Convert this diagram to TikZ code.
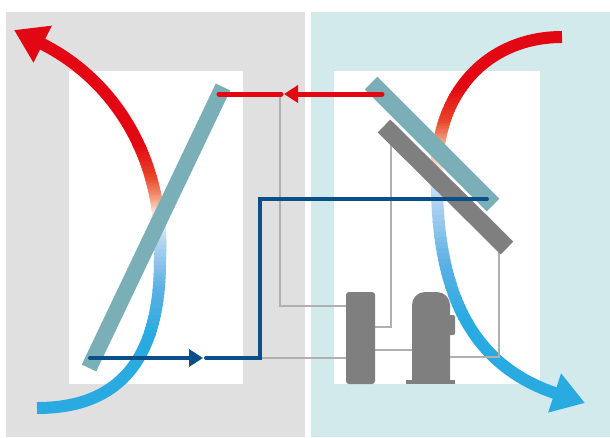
\documentclass[tikz,border=0pt]{standalone}
\usetikzlibrary{arrows.meta}
\definecolor{panelgray}{HTML}{E0E0E0}
\definecolor{panelblue}{HTML}{D3EAEC}
\definecolor{hot}{HTML}{E30613}
\definecolor{warm}{HTML}{E8452A}
\definecolor{peach}{HTML}{F4A080}
\definecolor{blush}{HTML}{FBE5DC}
\definecolor{ice}{HTML}{E8F1FA}
\definecolor{pale}{HTML}{B5D5F0}
\definecolor{mid}{HTML}{5BB0E5}
\definecolor{cold}{HTML}{29ABE2}
\definecolor{coil}{HTML}{7AAFB8}
\definecolor{unit}{HTML}{7F7F7F}
\definecolor{pipe}{HTML}{B0B0B0}
\definecolor{deep}{HTML}{0B4F8A}
\definecolor{liquid}{HTML}{E30613}

% stroke a path in horizontal strips, blending colour #4 into #5 between y=#2 and y=#3
\newcommand\gradseg[5]{%
  \foreach \k in {0,...,11}{%
    \pgfmathsetmacro\ya{#2+(#3-#2)*\k/12}%
    \pgfmathsetmacro\yb{#2+(#3-#2)*(\k+1)/12}%
    \pgfmathsetmacro\pc{100-100*(\k+0.5)/12}%
    \colorlet{stripcol}{#4!\pc!#5}%
    \begin{scope}
      \clip (-20,\ya-0.4) rectangle (640,\yb+0.4);
      #1
    \end{scope}
  }}
\newcommand\solidseg[4]{%
  \colorlet{stripcol}{#4}%
  \begin{scope}
    \clip (-20,#2-0.4) rectangle (640,#3+0.4);
    #1
  \end{scope}}

\tikzset{
  airflow/.style={line width=12pt, -{Triangle[length=32pt,width=39pt]}},
  bar/.style={line width=#1, line cap=butt},
  thinpipe/.style={pipe, line width=1.4pt, line join=miter},
  hotpipe/.style={liquid, line width=5pt, line cap=round},
  coldpipe/.style={deep, line width=4pt, line cap=round, line join=miter},
  flowtip/.style={-{Triangle[length=14pt,width=17pt]}}
}

\begin{document}
\begin{tikzpicture}[x=1pt,y=-1pt]
\useasboundingbox (0,0) rectangle (610,437);
\fill[white] (0,0) rectangle (610,437);

% indoor and outdoor halves
\fill[panelgray] (6,12) rectangle (305,437);
\fill[panelblue] (311,12) rectangle (610,437);
\fill[white] (69,71) rectangle (243,384);
\fill[white] (334,71) rectangle (540,384);

% key points
\coordinate (inA) at (37,408);
\coordinate (inB) at (160,260);
\coordinate (outA) at (14,30);
\coordinate (exA) at (562,37);
\coordinate (exB) at (437,170);
\coordinate (exC) at (585,403);

\newcommand\leftair{\draw[stripcol, airflow] (inA) .. controls (110,408) and (160,370) .. (inB)
   .. controls (165,160) and (115,80) .. (outA);}
\newcommand\rightair{\draw[stripcol, airflow] (exA) .. controls (490,37) and (437,90) .. (exB)
   .. controls (435,290) and (470,365) .. (exC);}

% indoor air stream
\solidseg{\leftair}{-20}{145}{hot}
\gradseg{\leftair}{145}{178}{hot}{warm}
\gradseg{\leftair}{178}{200}{warm}{peach}
\gradseg{\leftair}{200}{213}{peach}{blush}
\gradseg{\leftair}{213}{224}{blush}{ice}
\gradseg{\leftair}{224}{242}{ice}{pale}
\gradseg{\leftair}{242}{290}{pale}{mid}
\gradseg{\leftair}{290}{335}{mid}{cold}
\solidseg{\leftair}{335}{450}{cold}

% outdoor air stream
\solidseg{\rightair}{-20}{88}{hot}
\gradseg{\rightair}{88}{122}{hot}{warm}
\gradseg{\rightair}{122}{142}{warm}{peach}
\gradseg{\rightair}{142}{170}{peach}{blush}
\gradseg{\rightair}{170}{200}{ice}{pale}
\gradseg{\rightair}{200}{265}{pale}{mid}
\gradseg{\rightair}{265}{320}{mid}{cold}
\solidseg{\rightair}{320}{450}{cold}

% thin refrigerant lines
\coordinate (r1) at (280,94);
\coordinate (r2) at (280,306);
\coordinate (rcvL1) at (346,306);
\coordinate (b1) at (260,358);
\coordinate (rcvL2) at (346,358);
\coordinate (g1) at (391,133);
\coordinate (g2) at (391,327);
\coordinate (rcvR1) at (375,327);
\coordinate (rcvR2) at (375,350);
\coordinate (cmpL) at (412,350);
\coordinate (g3) at (499,243);
\coordinate (g4) at (499,357);
\coordinate (cmpR) at (450,357);
\draw[thinpipe] (r1) -- (r2) -- (rcvL1);
\draw[thinpipe] (b1) -- (rcvL2);
\draw[thinpipe] (g1) -- (g2) -- (rcvR1);
\draw[thinpipe] (rcvR2) -- (cmpL);
\draw[thinpipe] (g3) -- (g4) -- (cmpR);

% heat exchanger coils
\coordinate (ciA) at (89,368);
\coordinate (ciB) at (223,87);
\coordinate (coA) at (371,83);
\coordinate (coB) at (493,205);
\coordinate (fnA) at (384,126);
\coordinate (fnB) at (507,248);
\draw[coil, bar=16pt] (ciA) -- (ciB);
\draw[unit, bar=18pt] (fnA) -- (fnB);
\draw[coil, bar=18pt] (coA) -- (coB);

% receiver and compressor
\fill[unit, rounded corners=3pt] (346,292) rectangle (375,384);
\fill[unit] (412,381) [rounded corners=13pt] -- (412,292) -- (450,292) [sharp corners] -- (450,381) -- cycle;
\fill[unit, rounded corners=2pt] (444,315) rectangle (455,335);
\fill[unit] (406,380) rectangle (455,384);

% liquid line
\coordinate (hA) at (382,94);
\coordinate (hTip) at (284,94);
\coordinate (hB) at (281,94);
\coordinate (hC) at (219,94);
\draw[hotpipe, flowtip] (hA) -- (hTip);
\draw[hotpipe] (hB) -- (hC);

% suction line
\coordinate (dA) at (90,358);
\coordinate (dTip) at (203,358);
\coordinate (dB) at (206,358);
\coordinate (dC) at (260,358);
\coordinate (dD) at (260,199);
\coordinate (dE) at (487,199);
\draw[coldpipe, flowtip] (dA) -- (dTip);
\draw[coldpipe] (dB) -- (dC) -- (dD) -- (dE);
\end{tikzpicture}
\end{document}
